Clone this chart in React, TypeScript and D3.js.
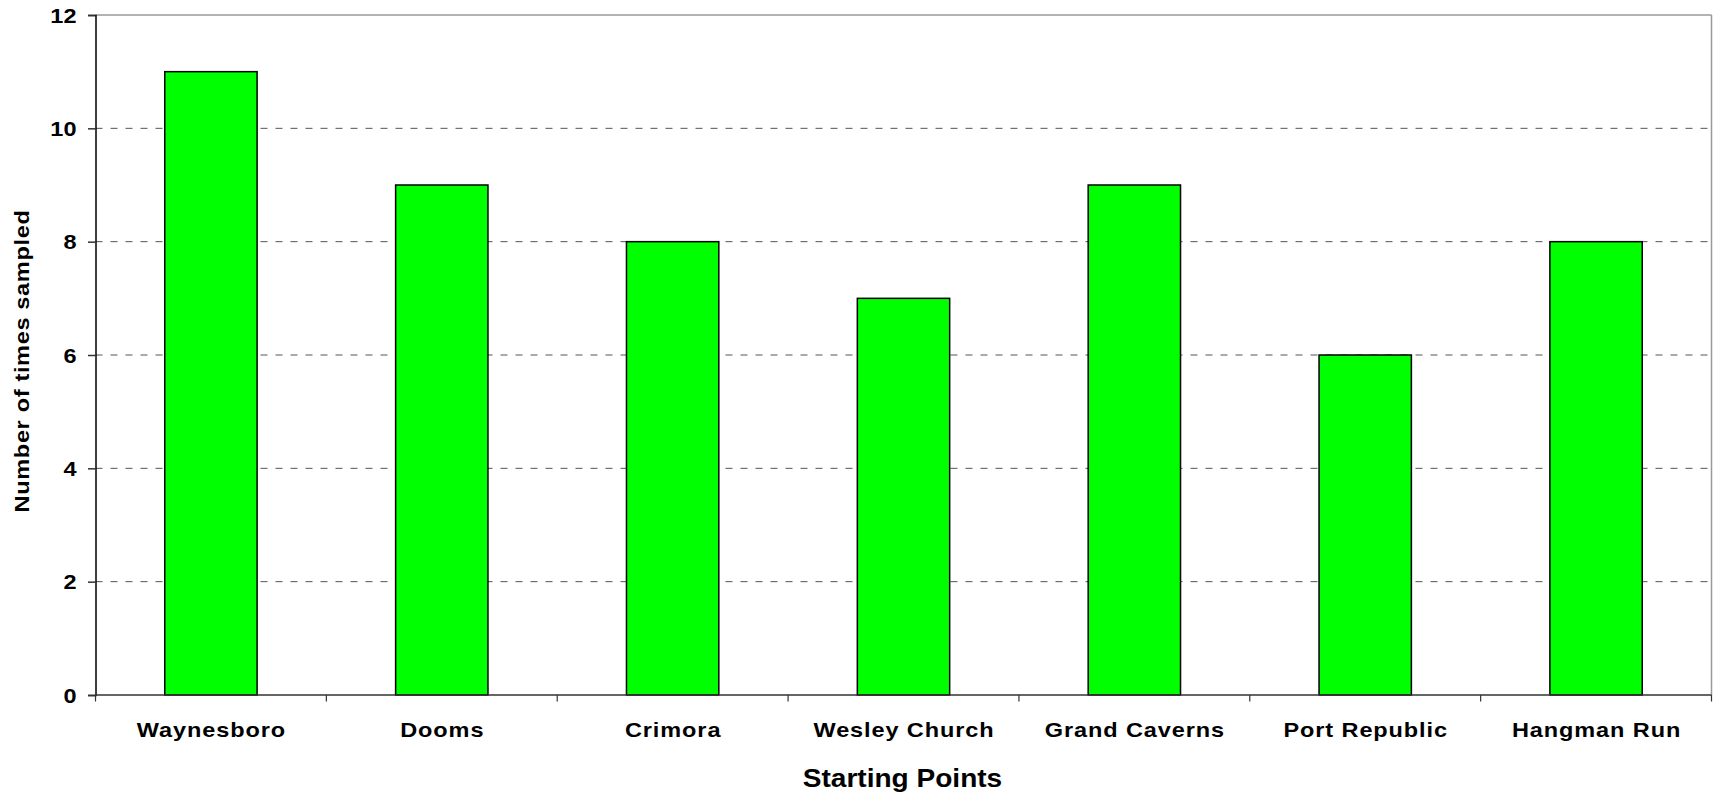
import React, { useEffect, useRef } from 'react';
import * as d3 from 'd3';

const categories = ['Waynesboro', 'Dooms', 'Crimora', 'Wesley Church', 'Grand Caverns', 'Port Republic', 'Hangman Run'];
const timesSampled = [11, 9, 8, 7, 9, 6, 8];
const yTicks = [0, 2, 4, 6, 8, 10, 12];

const FONT = '"Liberation Sans", Arial, sans-serif';

function App() {
  const ref = useRef<SVGSVGElement>(null);

  useEffect(() => {
    const width = 1718, height = 799;
    const margin = { top: 15, right: 6.5, bottom: 104, left: 95.5 };
    const innerW = width - margin.left - margin.right;
    const innerH = height - margin.top - margin.bottom;

    const svg = d3.select(ref.current);
    svg.selectAll('*').remove();
    const g = svg.append('g').attr('transform', `translate(${margin.left},${margin.top})`);

    const x = d3.scaleBand().domain(categories).range([0, innerW]).paddingInner(0.6).paddingOuter(0.3);
    const band = d3.scaleBand().domain(categories).range([0, innerW]);
    const y = d3.scaleLinear().domain([0, 12]).range([innerH, 0]);

    // plot frame (top and right in gray)
    g.append('line').attr('x1', 0).attr('x2', innerW).attr('y1', 0).attr('y2', 0)
      .attr('stroke', '#999').attr('stroke-width', 1.5);
    g.append('line').attr('x1', innerW).attr('x2', innerW).attr('y1', 0).attr('y2', innerH)
      .attr('stroke', '#999').attr('stroke-width', 1.5);

    // gridlines
    g.selectAll('.grid')
      .data(yTicks.filter(t => t > 0 && t < 12))
      .enter().append('line')
      .attr('x1', 0).attr('x2', innerW)
      .attr('y1', d => y(d)).attr('y2', d => y(d))
      .attr('stroke', '#555').attr('stroke-width', 1)
      .attr('stroke-dasharray', '7,8');

    // bars
    g.selectAll('.bar')
      .data(timesSampled)
      .enter().append('rect')
      .attr('x', (d, i) => x(categories[i])!)
      .attr('width', x.bandwidth())
      .attr('y', d => y(d))
      .attr('height', d => innerH - y(d))
      .attr('fill', '#00ff00')
      .attr('stroke', '#000')
      .attr('stroke-width', 1.5);

    // y axis
    const yAxis = g.append('g').call(d3.axisLeft(y).tickValues(yTicks).tickSize(7.5).tickFormat(() => ''));
    yAxis.select('.domain').attr('stroke', '#000').attr('stroke-width', 1.5);
    yAxis.selectAll('.tick line').attr('stroke', '#333').attr('stroke-width', 1.5);
    g.selectAll('.ylab')
      .data(yTicks)
      .enter().append('text')
      .attr('transform', d => `translate(-18.5,${y(d)}) scale(1.12,1)`)
      .attr('dy', '0.36em')
      .attr('text-anchor', 'end')
      .attr('font-family', FONT).attr('font-size', 21).attr('font-weight', 'bold')
      .attr('letter-spacing', 0.3)
      .text(d => d);

    // x axis: ticks at category boundaries
    const xAxis = g.append('g').attr('transform', `translate(0,${innerH})`);
    xAxis.append('line').attr('x1', 0).attr('x2', innerW).attr('y1', 0).attr('y2', 0)
      .attr('stroke', '#333').attr('stroke-width', 1.5);
    const bounds = categories.map(c => band(c)!).concat([innerW]);
    xAxis.selectAll('.xt')
      .data(bounds)
      .enter().append('line')
      .attr('x1', d => d).attr('x2', d => d)
      .attr('y1', 0).attr('y2', 6.5)
      .attr('stroke', '#333').attr('stroke-width', 1.2);
    xAxis.selectAll('.xl')
      .data(categories)
      .enter().append('text')
      .attr('transform', d => `translate(${band(d)! + band.bandwidth() / 2 + 0.5},42) scale(1.12,1)`)
      .attr('text-anchor', 'middle')
      .attr('font-family', FONT).attr('font-size', 21).attr('font-weight', 'bold')
      .attr('letter-spacing', 0.8)
      .text(d => d);

    // axis titles
    svg.append('text')
      .attr('transform', `translate(${margin.left + innerW / 2 - 1},787) scale(1.1,1)`)
      .attr('text-anchor', 'middle')
      .attr('font-family', FONT).attr('font-size', 25.5).attr('font-weight', 'bold')
      .text('Starting Points');

    svg.append('text')
      .attr('transform', `translate(28.5,361) rotate(-90) scale(1.12,1)`)
      .attr('text-anchor', 'middle')
      .attr('font-family', FONT).attr('font-size', 21).attr('font-weight', 'bold')
      .attr('letter-spacing', 0.6)
      .text('Number of times sampled');
  }, []);

  return (
    <svg ref={ref} width={1718} height={799}
      style={{ position: 'absolute', left: 0, top: 0, background: '#fff' }} />
  );
}

export default App;
